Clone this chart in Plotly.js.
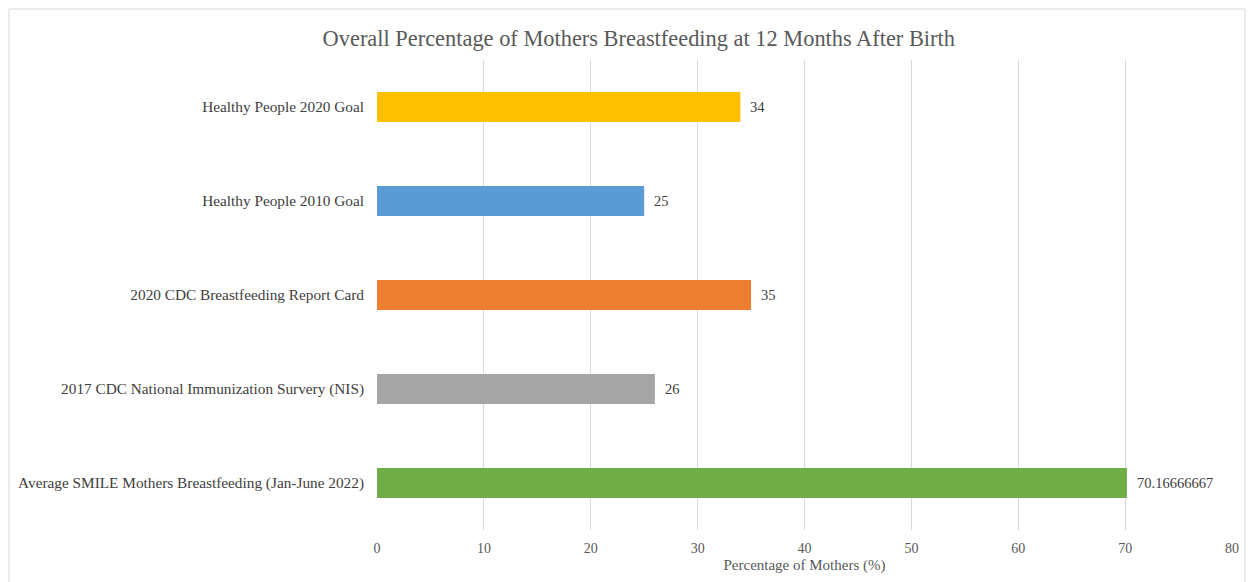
<!DOCTYPE html>
<html>
<head>
<meta charset="utf-8">
<script src="https://cdn.plot.ly/plotly-3.0.1.min.js"></script>
<style>html,body{margin:0;padding:0;background:#fff;}#chart{width:1255px;height:582px;}</style>
</head>
<body>
<div id="chart"></div>
<script>
const categories = [
  "Average SMILE Mothers Breastfeeding (Jan-June 2022)",
  "2017 CDC National Immunization Survery (NIS)",
  "2020 CDC Breastfeeding Report Card",
  "Healthy People 2010 Goal",
  "Healthy People 2020 Goal"
];
const values = [70.16666667, 26, 35, 25, 34];
const labels = ["70.16666667", "26", "35", "25", "34"];
const colors = ["#70AD47", "#A5A5A5", "#ED7D31", "#5B9BD5", "#FFC000"];
const xTicks = [0, 10, 20, 30, 40, 50, 60, 70, 80];

const font = "'Liberation Serif', 'Times New Roman', serif";

const trace = {
  type: "bar",
  orientation: "h",
  y: categories,
  x: values,
  marker: {color: colors},
  width: 0.32,
  hoverinfo: "none"
};

const annotations = categories.map((c, i) => ({
  x: values[i], y: c, xref: "x", yref: "y",
  text: labels[i], showarrow: false,
  xanchor: "left", yanchor: "middle", xshift: 8,
  font: {family: font, size: 14.5, color: "#404040"}
}));

const layout = {
  width: 1255,
  height: 582,
  margin: {l: 377, r: 23, t: 60, b: 52},
  paper_bgcolor: "#ffffff",
  plot_bgcolor: "#ffffff",
  showlegend: false,
  title: {
    text: "Overall Percentage of Mothers Breastfeeding at 12 Months After Birth",
    font: {family: font, size: 22.4, color: "#595959"},
    xref: "container", x: 0.509, xanchor: "center",
    y: 0.935, yanchor: "middle"
  },
  xaxis: {
    range: [0, 80],
    tickvals: xTicks,
    ticktext: xTicks.map(String),
    showgrid: true,
    gridcolor: "#d9d9d9",
    gridwidth: 1,
    zeroline: false,
    showline: false,
    ticks: "",
    ticklabelstandoff: 8,
    tickfont: {family: font, size: 14, color: "#595959"},
    title: {text: "Percentage of Mothers (%)", font: {family: font, size: 15, color: "#595959"}, standoff: 4},
    fixedrange: true
  },
  yaxis: {
    showgrid: false,
    zeroline: false,
    showline: false,
    ticks: "",
    ticklabelstandoff: 12,
    tickfont: {family: font, size: 15.3, color: "#404040"},
    fixedrange: true
  },
  annotations: annotations,
  shapes: [{
    type: "rect", xref: "paper", yref: "paper",
    x0: -0.4304, x1: 1.0152, y0: -0.3, y1: 1.1085,
    line: {color: "#d9d9d9", width: 1},
    fillcolor: "rgba(0,0,0,0)",
    layer: "below"
  }]
};

Plotly.newPlot("chart", [trace], layout, {displayModeBar: false, staticPlot: true});
</script>
</body>
</html>
